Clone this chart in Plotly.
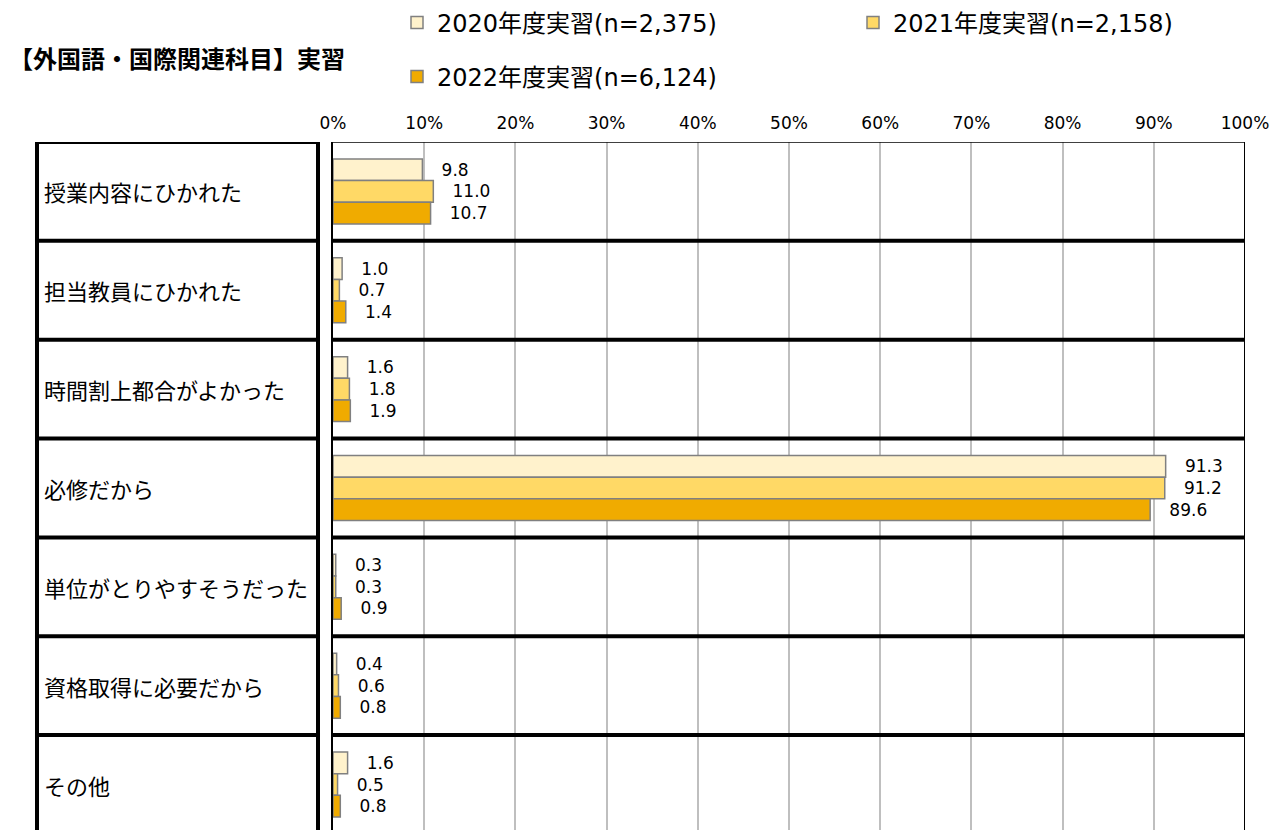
import plotly.graph_objects as go

categories = ["授業内容にひかれた", "担当教員にひかれた", "時間割上都合がよかった", "必修だから",
              "単位がとりやすそうだった", "資格取得に必要だから", "その他"]
series_names = ["2020年度実習(n=2,375)", "2021年度実習(n=2,158)", "2022年度実習(n=6,124)"]
values_2020 = [9.8, 1.0, 1.6, 91.3, 0.3, 0.4, 1.6]
values_2021 = [11.0, 0.7, 1.8, 91.2, 0.3, 0.6, 0.5]
values_2022 = [10.7, 1.4, 1.9, 89.6, 0.9, 0.8, 0.8]
x_ticks = [0, 10, 20, 30, 40, 50, 60, 70, 80, 90, 100]
x_tick_labels = ["0%", "10%", "20%", "30%", "40%", "50%", "60%", "70%", "80%", "90%", "100%"]
title_text = "【外国語・国際関連科目】実習"

colors = ["#FFF2CC", "#FFD966", "#F0AB00"]
OFF = 8  # page body margin
W, H = 1283 - OFF, 830 - OFF
L, R, T, B = 333 - OFF, 38, 142 - OFF, 0
pw = W - L - R

NUM_FONT = "DejaVu Sans, Noto Sans CJK JP"
JP_FONT = "Noto Sans CJK JP, DejaVu Sans"

fig = go.Figure()
legends = ["legend", "legend2", "legend3"]
for name, vals, col, lg in zip(series_names, [values_2020, values_2021, values_2022], colors, legends):
    fig.add_trace(go.Bar(
        y=categories, x=vals, name=name, orientation="h",
        marker=dict(color=col, line=dict(color="#808080", width=1.5)),
        texttemplate="\u00a0\u00a0\u00a0%{x:.1f}", textposition="outside",
        textfont=dict(family=NUM_FONT, size=17, color="#000000"),
        cliponaxis=False, constraintext="none", legend=lg,
        hoverinfo="skip",
    ))

def px_to_paper_x(px):
    return (px - OFF - L) / pw

shapes = []
n = len(categories)
left_x0 = px_to_paper_x(37)
left_x1 = px_to_paper_x(318)
for i in range(n):
    yb = i - 0.5
    shapes.append(dict(type="line", xref="paper", yref="y", x0=left_x0 - 0.0022, x1=left_x1 + 0.0022,
                       y0=yb, y1=yb, line=dict(color="black", width=4)))
    if i > 0:
        shapes.append(dict(type="line", xref="x", yref="y", x0=0, x1=100, y0=yb, y1=yb,
                           line=dict(color="black", width=4)))
shapes.append(dict(type="line", xref="x", yref="y", x0=0, x1=100, y0=-0.5, y1=-0.5,
                   line=dict(color="black", width=1.5)))
for xv in [left_x0, left_x1]:
    shapes.append(dict(type="line", xref="paper", yref="paper", x0=xv, x1=xv, y0=-0.05, y1=1,
                       line=dict(color="black", width=4)))
shapes.append(dict(type="line", xref="x", yref="paper", x0=100, x1=100, y0=-0.05, y1=1,
                   line=dict(color="black", width=2)))

annotations = []
for c in categories:
    annotations.append(dict(text=c, xref="paper", yref="y", x=px_to_paper_x(42), y=c,
                            xanchor="left", yanchor="middle", showarrow=False,
                            font=dict(family=JP_FONT, size=22, color="#000000")))

legend_common = dict(orientation="h", xref="container", yref="container", xanchor="left",
                     yanchor="middle", font=dict(family=NUM_FONT, size=24, color="#000000"),
                     bgcolor="rgba(0,0,0,0)", borderwidth=0)

def cx(px):
    return max(px - OFF, 0) / W

def cy(py):
    return 1 - (py - OFF) / H

fig.update_layout(
    width=W, height=H,
    margin=dict(l=L, r=R, t=T, b=B, autoexpand=False),
    plot_bgcolor="white", paper_bgcolor="white",
    barmode="group", bargap=0.343, bargroupgap=0,
    title=dict(text="<b>" + title_text + "</b>", x=cx(9), xanchor="left", xref="container",
               y=cy(60), yanchor="middle", yref="container", pad=dict(l=0, r=0, t=0, b=0),
               font=dict(family=JP_FONT, size=24, color="#000000")),
    xaxis=dict(side="top", range=[0, 100], tickvals=x_ticks, ticktext=x_tick_labels,
               showgrid=True, gridcolor="#BFBFBF", gridwidth=1.5, zeroline=False,
               showline=False, ticks="", ticklabelstandoff=9,
               tickfont=dict(family=NUM_FONT, size=17, color="#000000")),
    yaxis=dict(type="category", categoryorder="array", categoryarray=categories,
               range=[n - 0.54, -0.5], showticklabels=False, showgrid=False,
               zeroline=False, showline=True, linecolor="black", linewidth=1.5, ticks=""),
    shapes=shapes, annotations=annotations,
    showlegend=True,
    legend=dict(x=cx(397), y=cy(23), **legend_common),
    legend2=dict(x=cx(853), y=cy(23), **legend_common),
    legend3=dict(x=cx(397), y=cy(77), **legend_common),
)

fig.write_html("out.html")
